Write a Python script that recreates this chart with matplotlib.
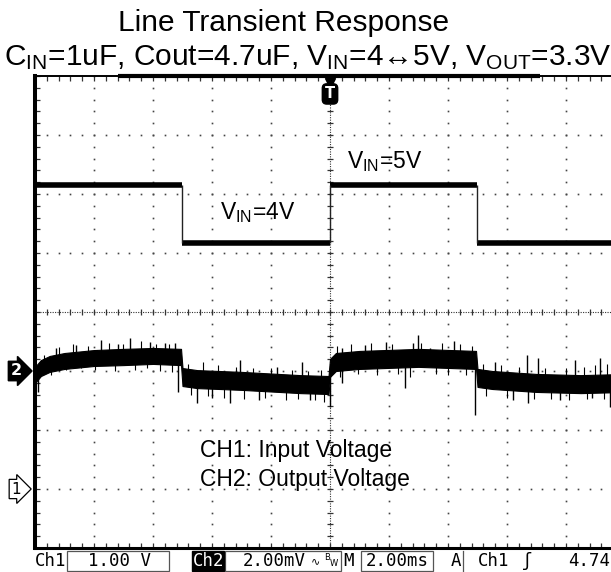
import matplotlib.pyplot as plt
import matplotlib.transforms as mtransforms
from matplotlib.patches import Rectangle
import numpy as np

plt.rcParams['font.family'] = ['Liberation Sans', 'DejaVu Sans']
plt.rcParams['mathtext.fontset'] = 'custom'
plt.rcParams['mathtext.rm'] = 'Liberation Sans'
plt.rcParams['mathtext.it'] = 'Liberation Sans'

# scope settings
time_per_div = 2.0   # ms
ch1_per_div = 1.00   # V
ch2_per_div = 2.00   # mV
ch1_pos = -3.0       # ground marker, divisions from centre
ch2_pos = -1.0

# CH1: input voltage steps (ms, V)
ch1_start = [-10, -5, 0, 5]
ch1_end = [-5, 0, 5, 10]
ch1_level = [5.15, 4.17, 5.15, 4.17]

# CH2: output voltage, AC coupled, noise band envelope (ms, mV)
ch2_t = [-10, -9.8, -9.5, -9, -8, -7, -6, -5.05,
         -5.0, -4.5, -3, -1, -0.05,
         0, 0.2, 1, 3, 4.95,
         5.0, 5.5, 7, 8.5, 10]
ch2_hi = [0.14, 0.37, 0.51, 0.61, 0.71, 0.75, 0.78, 0.75,
          0.10, 0.03, -0.03, -0.14, -0.17,
          0.41, 0.61, 0.68, 0.75, 0.68,
          0.07, 0.0, -0.10, -0.14, -0.10]
ch2_lo = [-0.41, -0.17, -0.03, 0.07, 0.17, 0.20, 0.24, 0.20,
          -0.51, -0.58, -0.64, -0.75, -0.78,
          -0.20, 0.0, 0.07, 0.14, 0.07,
          -0.54, -0.61, -0.71, -0.75, -0.71]

# large noise spikes on CH2 (ms, mV)
spike_t = [-9.90, -9.3, -8.6, -7.76, -7.2, -6.78, -6.10, -5.6, -5.25, -5.15,
           -4.51, -4.0, -3.39, -3.05, -2.4, -1.8, -0.95, -0.68, 0.0, 0.41,
           0.41, 1.19, 1.9, 2.54, 2.81, 2.98, 3.39, 4.2, 4.92, 5.6,
           6.2, 6.68, 6.71, 7.05, 7.8, 8.31, 8.88, 9.15, 9.49]
spike_v = [-0.71, 0.78, 0.88, 1.05, 0.92, 1.12, 0.98, 0.95, 0.95, -0.71,
           -1.08, -0.92, -1.08, 0.37, -0.98, 0.15, 0.31, -0.98, -1.22, 0.78,
           -0.41, 0.88, 0.98, -0.58, 0.95, 1.22, 0.78, 1.0, -1.49, 0.3,
           -1.0, 0.54, -1.08, 0.44, -0.98, 0.37, -0.92, 0.44, -1.22]

# short noise hairs along the band edges (ms, mV)
hair_t = [-9.7, -9.45, -9.2, -8.95, -8.7, -8.45, -8.2, -7.95, -7.5, -7.3,
          -7.0, -6.6, -6.4, -6.2, -5.9, -5.75, -5.45, -5.35,
          -4.8, -4.7, -4.3, -4.15, -3.8, -3.6, -3.2, -2.9, -2.6, -2.2,
          -2.0, -1.5, -1.3, -1.1, -0.75, -0.5, -0.3, -0.2,
          0.25, 0.35, 0.7, 0.95, 1.4, 1.6, 2.1, 2.3, 2.7, 3.1,
          3.6, 3.8, 4.0, 4.4, 4.6, 4.8,
          5.2, 5.3, 5.8, 6.0, 6.4, 6.9, 7.3, 7.5, 8.0, 8.1,
          8.6, 8.7, 9.0, 9.3, 9.4]
hair_v = [0.55, -0.15, 0.8, 0.05, 0.9, 0.1, 0.85, 0.05, 0.95, 0.0,
          0.9, 0.05, 1.0, 0.1, 0.92, 0.0, 0.9, -0.05,
          0.25, -0.8, 0.3, -0.85, 0.2, -0.9, 0.15, -0.95, 0.1, -0.9,
          0.1, -1.0, 0.05, -0.95, 0.0, -1.0, 0.05, -1.05,
          0.85, -0.2, 0.9, -0.1, 0.95, -0.15, 0.9, -0.1, -0.2, 0.95,
          -0.1, 0.95, -0.15, 0.9, -0.15, 0.85,
          0.25, -0.85, 0.2, -0.9, 0.15, -0.95, 0.1, -0.95, 0.1, -1.0,
          0.15, -0.95, 0.2, -0.95, 0.25]

title = 'Line Transient Response'
subtitle = (r'C$_{\mathrm{IN}}$=1uF, Cout=4.7uF, V$_{\mathrm{IN}}$=4↔5V, '
            r'V$_{\mathrm{OUT}}$=3.3V')

W, H = 611, 572
fig = plt.figure(figsize=(W / 100, H / 100), dpi=100)

# screen: 10 x 8 divisions, 59 px per division, right edge cut off
ax = fig.add_axes([35 / W, 24 / H, 590 / W, 472 / H])
ax.set_xlim(-5 * time_per_div, 5 * time_per_div)
ax.set_ylim((-4 - ch1_pos) * ch1_per_div, (4 - ch1_pos) * ch1_per_div)
ax2 = ax.twinx()
ax2.set_ylim((-4 - ch2_pos) * ch2_per_div, (4 - ch2_pos) * ch2_per_div)

for a in (ax, ax2):
    a.set_facecolor('none')
    a.spines['right'].set_visible(False)
    a.set_yticks([])
ax2.spines[['left', 'top', 'bottom']].set_visible(False)
ax.spines['left'].set_linewidth(2.9)
ax.spines['bottom'].set_linewidth(2.2)
ax.spines['top'].set_linewidth(1.4)

x0, x1 = ax.get_xlim()
y0, y1 = ax.get_ylim()
xc = 0.0
yc = -ch1_pos * ch1_per_div
minor_x = np.arange(x0, x1 + 1e-6, time_per_div / 5)
minor_y = np.arange(y0, y1 + 1e-6, ch1_per_div / 5)

# border ticks
ax.set_xticks(minor_x)
ax.set_yticks(minor_y)
ax.tick_params(direction='in', length=3.5, width=0.9, color='#333',
               top=True, bottom=True, left=True, right=False,
               labelbottom=False, labelleft=False)

# dotted graticule
dot = dict(ls='none', marker='s', ms=1.2, mew=0, color='#444', zorder=1)
for gx in np.arange(x0 + time_per_div, x1, time_per_div):
    if abs(gx - xc) > 1e-6:
        ax.plot(np.full_like(minor_y, gx), minor_y, **dot)
for gy in np.arange(y0 + ch1_per_div, y1, ch1_per_div):
    if abs(gy - yc) > 1e-6:
        ax.plot(minor_x, np.full_like(minor_x, gy), **dot)
ax.axhline(yc, color='#333', lw=0.8, ls=(0, (1, 1.2)), zorder=1)
ax.axvline(xc, color='#333', lw=0.8, ls=(0, (1, 1.2)), zorder=1)
ax.plot(minor_x, np.full_like(minor_x, yc), ls='none', marker='|',
        ms=4.5, mew=0.9, color='#333', zorder=1)
ax.plot(np.full_like(minor_y, xc), minor_y, ls='none', marker='_',
        ms=4.5, mew=0.9, color='#333', zorder=1)

# record bar on top border
ax.plot([-7.19, 7.12], [y1, y1], color='black', lw=3, clip_on=False,
        solid_capstyle='butt', zorder=5)

# CH1 trace
ax.hlines(ch1_level, ch1_start, ch1_end, color='black', lw=4, zorder=3)
ax.vlines(ch1_end[:-1], ch1_level[1:], ch1_level[:-1], color='#222',
          lw=1.0, zorder=3)

# CH2 trace
ax2.fill_between(ch2_t, ch2_lo, ch2_hi, color='black', lw=0.8,
                 edgecolor='black', zorder=3)
mid = (np.array(ch2_hi) + np.array(ch2_lo)) / 2
ax2.vlines(hair_t, np.interp(hair_t, ch2_t, mid), hair_v, color='black',
           lw=0.8, zorder=3)
ax2.vlines(spike_t, np.interp(spike_t, ch2_t, mid), spike_v, color='black',
           lw=1.0, zorder=3)

# annotations
lab = dict(fontsize=16.5, va='baseline', ha='left', zorder=6)
ax.text(0.58, 5.44, r'V$_{\mathrm{IN}}$=5V', **lab)
ax.text(-3.73, 4.58, r'V$_{\mathrm{IN}}$=4V', **lab)
ax.text(-4.41, 0.54, 'CH1: Input Voltage', **lab)
ax.text(-4.41, 0.05, 'CH2: Output Voltage', **lab)

# channel ground markers
tr1 = mtransforms.blended_transform_factory(ax.transAxes, ax.transData)
tr2 = mtransforms.blended_transform_factory(ax2.transAxes, ax2.transData)
ax2.text(-0.032, 0.0, '2', transform=tr2, ha='center', va='center',
         color='white', fontsize=11.5, fontweight='bold', clip_on=False,
         family='DejaVu Sans',
         bbox=dict(boxstyle='rarrow,pad=0.14', fc='black', ec='black'))
ax.text(-0.032, 0.0, '1', transform=tr1, ha='center', va='center',
        color='black', fontsize=11, clip_on=False, family='DejaVu Sans',
        bbox=dict(boxstyle='rarrow,pad=0.14', fc='white', ec='black', lw=0.9))

# trigger marker
trt = mtransforms.blended_transform_factory(ax.transData, ax.transAxes)
ax.plot([0], [0.985], marker='v', ms=7, color='black', transform=trt,
        clip_on=False, zorder=6)
ax.text(0, 0.962, 'T', transform=trt, ha='center', va='center',
        color='white', fontsize=10.5, fontweight='bold', family='DejaVu Sans',
        bbox=dict(boxstyle='round,pad=0.18,rounding_size=0.3', fc='black',
                  ec='black'), zorder=6)

# overlay in pixel coordinates for title and status bar
ov = fig.add_axes([0, 0, 1, 1], zorder=10)
ov.set_xlim(0, W)
ov.set_ylim(H, 0)
ov.axis('off')
ov.set_facecolor('none')

ov.text(284, 31, title, fontsize=21.5, ha='center', va='baseline')
ov.text(308, 65, subtitle, fontsize=21.5, ha='center', va='baseline')

mono = dict(fontsize=12.5, va='center', ha='left',
            family=['DejaVu Sans Mono', 'DejaVu Sans'])
yb = 561
for (bx0, bx1) in [(67, 169), (225, 341), (361, 433)]:
    ov.add_patch(Rectangle((bx0, 551), bx1 - bx0, 20, fill=False,
                           ec='#555', lw=0.9))
ov.add_patch(Rectangle((192, 551), 32, 20, fc='black', ec='black'))
ov.plot([463, 463], [551, 571], color='#555', lw=0.9)
ov.text(35, yb, 'Ch1', **mono)
ov.text(88, yb, '1.00 V', **mono)
ov.text(193, yb, 'Ch2', color='white', **mono)
ov.text(243, yb, '2.00mV', **mono)
ov.text(311, yb, '∿', fontsize=8, va='center', ha='left', family='DejaVu Sans')
ov.text(324, yb - 4, 'B', fontsize=6, va='center', ha='left', family='DejaVu Sans')
ov.text(330, yb + 3, 'W', fontsize=6, va='center', ha='left', family='DejaVu Sans')
ov.text(343, yb, 'M', **mono)
ov.text(366, yb, '2.00ms', **mono)
ov.text(451, yb, 'A', **mono)
ov.text(478, yb, 'Ch1', **mono)
ov.text(522, yb, 'ʃ', **mono)
ov.text(568, yb, '4.74', **mono)

fig.savefig('out.png', dpi=100)
